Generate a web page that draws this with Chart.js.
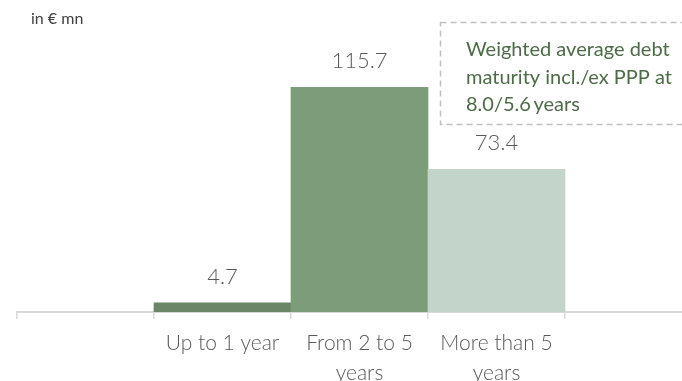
<!DOCTYPE html>
<html>
<head>
<meta charset="utf-8">
<script src="https://cdn.jsdelivr.net/npm/chart.js@4.4.1/dist/chart.umd.min.js"></script>
<style>
  html, body { margin: 0; padding: 0; background: #fff; }
  #wrap { width: 682px; height: 381px; overflow: hidden; position: relative; }
  #wrap canvas { display: block; }
</style>
</head>
<body>
<div id="wrap"><canvas id="c" width="702" height="381"></canvas></div>
<script>
// categories, with empty slots either side like the original slide
var categories = ["", "Up to 1 year", ["From 2 to 5", "years"], ["More than 5", "years"], ""];
var values = [null, 4.7, 115.7, 73.4, null];
var barColors = ["#fff", "#6b8567", "#7c9c7a", "#c3d5ca", "#fff"];
var unitLabel = "in \u20ac mn";
var noteLines = ["Weighted average debt", "maturity incl./ex PPP at", "8.0/5.6\u2009years"];

var FONT = "Lato, 'Open Sans', sans-serif";

// value labels above each bar
var valueLabels = {
  id: "valueLabels",
  afterDatasetsDraw: function (chart) {
    var ctx = chart.ctx;
    var meta = chart.getDatasetMeta(0);
    ctx.save();
    ctx.font = "300 22px " + FONT;
    ctx.fillStyle = "#595959";
    ctx.textAlign = "center";
    ctx.textBaseline = "middle";
    meta.data.forEach(function (bar, i) {
      if (values[i] == null) return;
      ctx.fillText(values[i].toFixed(1), bar.x, bar.y - 26);
    });
    ctx.restore();
  },
};

// unit label and the dashed note box
var notes = {
  id: "notes",
  afterDraw: function (chart) {
    var ctx = chart.ctx;
    ctx.save();
    ctx.font = "16px " + FONT;
    ctx.fillStyle = "#404040";
    ctx.textBaseline = "middle";
    ctx.fillText(unitLabel, 31, 19);

    ctx.setLineDash([6, 4]);
    ctx.strokeStyle = "#bfbfbf";
    ctx.lineWidth = 1.5;
    ctx.strokeRect(440.5, 22.5, 300, 102);
    ctx.setLineDash([]);

    ctx.font = "20px " + FONT;
    ctx.fillStyle = "#4e6b48";
    noteLines.forEach(function (line, i) {
      ctx.fillText(line, 466, 50 + i * 27.5);
    });
    ctx.restore();
  },
};

var chart = new Chart(document.getElementById("c"), {
  type: "bar",
  data: {
    labels: categories,
    datasets: [
      {
        data: values,
        backgroundColor: barColors,
        barPercentage: 1,
        categoryPercentage: 1,
        borderWidth: 0,
      },
    ],
  },
  options: {
    responsive: false,
    animation: false,
    events: [],
    layout: { padding: { top: 40, left: 17, right: 0, bottom: 0 } },
    plugins: { legend: { display: false }, tooltip: { enabled: false } },
    scales: {
      x: {
        offset: true,
        grid: {
          offset: true,
          drawOnChartArea: false,
          drawTicks: true,
          tickLength: 7,
          color: "#d9d9d9",
          lineWidth: 1.5,
        },
        border: { display: true, color: "#d9d9d9", width: 2 },
        ticks: {
          color: "#595959",
          font: { family: FONT, size: 21, weight: 300, lineHeight: 1.4 },
          padding: 10,
          maxRotation: 0,
          autoSkip: false,
        },
        afterFit: function (scale) {
          scale.height = 69;
        },
      },
      y: { display: false, min: 0, max: 140 },
    },
  },
  plugins: [valueLabels, notes],
});
</script>
</body>
</html>
